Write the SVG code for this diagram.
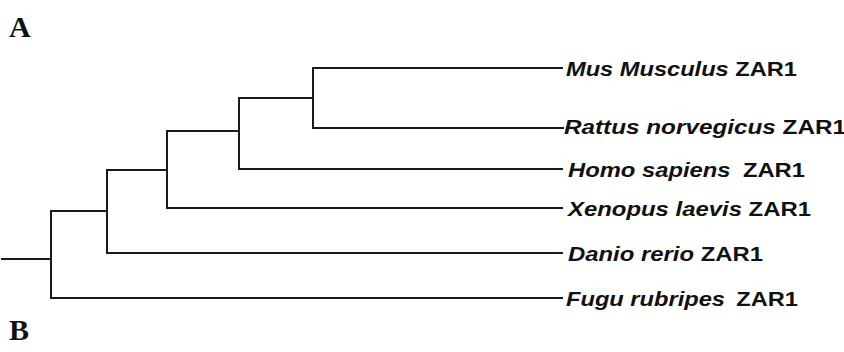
<svg xmlns="http://www.w3.org/2000/svg" width="844" height="352" viewBox="0 0 844 352">
<style>
.br{fill:none;stroke:#1a1a1a;stroke-width:2;stroke-linecap:square}
.lb{font-family:"Liberation Sans",Arial,sans-serif;font-size:20.5px;font-weight:bold;fill:#111}
.sp{font-style:italic}
.pl{font-family:"Liberation Serif","Times New Roman",serif;font-weight:bold;font-size:30px;fill:#111}
</style>
<rect width="844" height="352" fill="#fff"/>
<text class="pl" x="9" y="37">A</text>
<text class="pl" x="9" y="340">B</text>
<g id="connectors">
<path class="br" d="M2 259H51M51 211V298M51 211H107M51 298H562"/>
<path class="br" d="M107 170V253M107 170H167M107 253H562"/>
<path class="br" d="M167 131V208M167 131H239M167 208H562"/>
<path class="br" d="M239 98V169M239 98H313M239 169H562"/>
<path class="br" d="M313 68V128M313 68H562M313 128H563"/>
</g>
<g id="mus"><text class="lb" x="566" y="76" textLength="231" lengthAdjust="spacingAndGlyphs"><tspan class="sp">Mus Musculus</tspan> ZAR1</text></g>
<g id="rattus"><text class="lb" x="564" y="134" textLength="282" lengthAdjust="spacingAndGlyphs"><tspan class="sp">Rattus norvegicus</tspan> ZAR1</text></g>
<g id="homo"><text class="lb" x="568" y="177" textLength="237" lengthAdjust="spacingAndGlyphs"><tspan class="sp">Homo sapiens</tspan><tspan dx="5"> ZAR1</tspan></text></g>
<g id="xenopus"><text class="lb" x="568" y="216" textLength="243" lengthAdjust="spacingAndGlyphs"><tspan class="sp">Xenopus laevis</tspan> ZAR1</text></g>
<g id="danio"><text class="lb" x="568" y="261" textLength="195" lengthAdjust="spacingAndGlyphs"><tspan class="sp">Danio rerio</tspan> ZAR1</text></g>
<g id="fugu"><text class="lb" x="566" y="306" textLength="232" lengthAdjust="spacingAndGlyphs"><tspan class="sp">Fugu rubripes</tspan><tspan dx="4"> ZAR1</tspan></text></g>
</svg>
